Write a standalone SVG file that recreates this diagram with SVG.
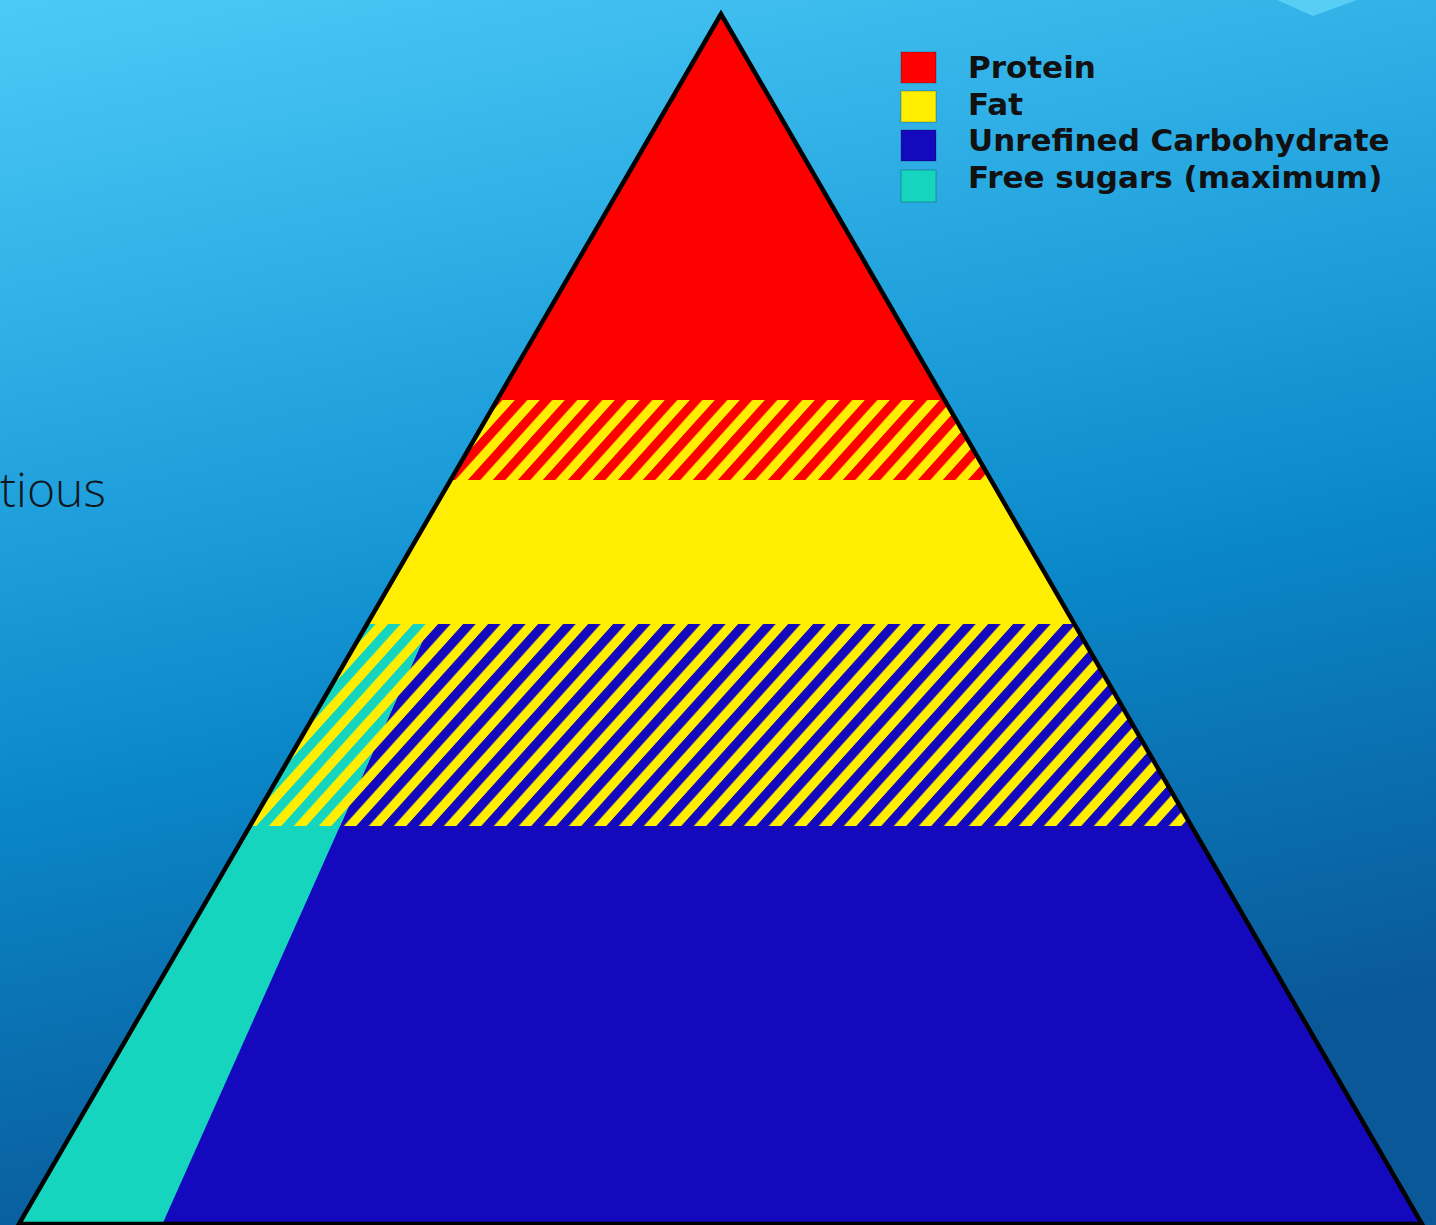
<svg xmlns="http://www.w3.org/2000/svg" width="1436" height="1225" viewBox="0 0 1436 1225">
  <style>
    .legend-text { font-family: "DejaVu Sans", "Liberation Sans", sans-serif; font-weight: bold; font-size: 31px; fill: #111111; }
    .side-text { font-family: "Open Sans", "Lato", "Liberation Sans", sans-serif; font-weight: 300; font-size: 48px; fill: #0f1820; }
    .key { stroke: rgba(0,0,0,0.25); stroke-width: 1; }
  </style>
  <defs>
    <linearGradient id="bg" x1="0" y1="0" x2="0.25" y2="1">
      <stop offset="0" stop-color="#4CCAF6"/>
      <stop offset="0.4" stop-color="#1FA0DC"/>
      <stop offset="0.62" stop-color="#0A87C8"/>
      <stop offset="1" stop-color="#0A5898"/>
    </linearGradient>
    <pattern id="redStripes" width="25" height="25" patternUnits="userSpaceOnUse" patternTransform="skewX(-42)">
      <rect x="0" y="0" width="12.5" height="25" fill="#FF0000"/>
    </pattern>
    <pattern id="blueStripes" width="25" height="25" patternUnits="userSpaceOnUse" patternTransform="skewX(-42)">
      <rect x="0" y="0" width="12.5" height="25" fill="#1509BD"/>
    </pattern>
    <pattern id="cyanStripes" width="25" height="25" patternUnits="userSpaceOnUse" patternTransform="skewX(-42)">
      <rect x="0" y="0" width="12.5" height="25" fill="#16D5BE"/>
    </pattern>
    <clipPath id="tri">
      <polygon points="721,14 19,1224 1422,1224"/>
    </clipPath>
  </defs>

  <rect id="background" x="0" y="0" width="1436" height="1225" fill="url(#bg)"/>
  <polygon id="corner-chevron" points="1277,0 1357,0 1313,16" fill="#62D4F8" opacity="0.8"/>

  <text id="side-label" class="side-text" x="0" y="507">tious</text>

  <g id="pyramid" clip-path="url(#tri)">
    <g id="band-protein"><rect x="0" y="0" width="1436" height="400" fill="#FF0000"/></g>
    <g id="band-protein-fat">
      <rect x="0" y="400" width="1436" height="80" fill="#FFEE00"/>
      <rect x="0" y="400" width="1436" height="80" fill="url(#redStripes)"/>
    </g>
    <g id="band-fat"><rect x="0" y="480" width="1436" height="144" fill="#FFEE00"/></g>
    <g id="band-fat-carb">
      <rect x="0" y="624" width="1436" height="202" fill="#FFEE00"/>
      <polygon points="430,624 1436,624 1436,826 340,826" fill="url(#blueStripes)"/>
      <polygon points="0,624 430,624 340,826 0,826" fill="url(#cyanStripes)"/>
    </g>
    <g id="band-carb">
      <rect x="0" y="826" width="1436" height="400" fill="#1509BD"/>
      <polygon points="0,826 340,826 162,1225 0,1225" fill="#16D5BE"/>
    </g>
  </g>
  <polygon id="pyramid-outline" points="721,14 19,1224 1422,1224" fill="none" stroke="#000000" stroke-width="4.5" stroke-linejoin="miter" stroke-miterlimit="20"/>

  <g id="legend">
    <g id="legend-protein">
      <rect class="key" x="901" y="52" width="35" height="31" fill="#FF0000"/>
      <text class="legend-text" x="968" y="78">Protein</text>
    </g>
    <g id="legend-fat">
      <rect class="key" x="901" y="91" width="35" height="31" fill="#FFEE00"/>
      <text class="legend-text" x="968" y="115">Fat</text>
    </g>
    <g id="legend-carb">
      <rect class="key" x="901" y="130" width="35" height="31" fill="#1509BD"/>
      <text class="legend-text" x="968" y="151">Unrefined Carbohydrate</text>
    </g>
    <g id="legend-sugars">
      <rect class="key" x="901" y="170" width="35" height="32" fill="#16D5BE"/>
      <text class="legend-text" x="968" y="188">Free sugars (maximum)</text>
    </g>
  </g>
</svg>
